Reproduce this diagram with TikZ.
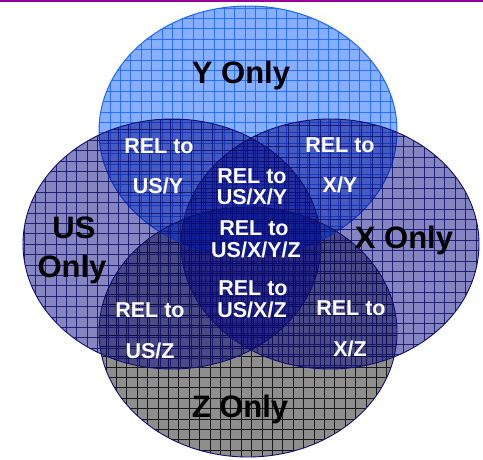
\documentclass[tikz,border=0pt]{standalone}
\usepackage{fontspec}
\setmainfont{Liberation Sans}
\definecolor{yfill}{HTML}{1060FF}
\definecolor{yline}{HTML}{1A66FF}
\definecolor{navyc}{HTML}{000080}
\definecolor{navyline}{HTML}{10106A}
\definecolor{zgray}{HTML}{8E8E8E}
\definecolor{topline}{HTML}{990099}
\newcommand\mygridlines[3]{%
  \foreach \k in {0,...,47} {\draw[#1] (\k*10.4+#2,0) -- (\k*10.4+#2,459);}
  \foreach \k in {0,...,45} {\draw[#1] (0,\k*10.4+#3) -- (483,\k*10.4+#3);}
}
\begin{document}
\begin{tikzpicture}[x=1pt,y=-1pt,
  bigtext/.style={font=\fontsize{31}{33}\selectfont\bfseries, text=black, anchor=base, inner sep=0pt},
  smalltext/.style={font=\fontsize{21.5}{22}\selectfont\bfseries, text=white, anchor=base, inner sep=0pt},
  ell/.style={x radius=149pt, y radius=125pt}]
\useasboundingbox (0,0) rectangle (483,459);
\fill[white] (0,0) rectangle (483,459);
\fill[topline] (0,0) rectangle (483,1.8);
\coordinate (cY) at (248,131);
\coordinate (cZ) at (248,332);
\coordinate (cUS) at (172,244);
\coordinate (cX) at (330,244);
% Z
\fill[zgray] (cZ) ellipse [ell];
\begin{scope}
  \clip (cZ) ellipse [ell];
  \mygridlines{black!90, line width=0.8pt}{2}{3}
\end{scope}
% Y
\fill[yfill, fill opacity=0.5] (cY) ellipse [ell];
\begin{scope}
  \clip (cY) ellipse [ell];
  \mygridlines{yline, line width=0.8pt, opacity=0.85}{6}{8}
\end{scope}
\draw[yline, line width=1pt] (cY) ellipse [ell];
% US
\fill[navyc, fill opacity=0.48] (cUS) ellipse [ell];
\begin{scope}
  \clip (cUS) ellipse [ell];
  \mygridlines{navyline, line width=0.8pt, opacity=0.85}{4}{5}
\end{scope}
% X
\fill[navyc, fill opacity=0.48] (cX) ellipse [ell];
\begin{scope}
  \clip (cX) ellipse [ell];
  \mygridlines{navyline, line width=0.8pt, opacity=0.85}{8}{1}
\end{scope}
\draw[navyline, line width=0.9pt] (cUS) ellipse [ell];
\draw[navyline, line width=0.9pt] (cX) ellipse [ell];
\draw[navyline, line width=0.9pt] (cZ) ellipse [ell];
% labels
\node[bigtext] (yonly) at (241,83) {Y Only};
\node[bigtext] (us1) at (74,238) {US};
\node[bigtext] (us2) at (72,277) {Only};
\node[bigtext] (xonly) at (404,248) {X Only};
\node[bigtext] (zonly) at (240,417) {Z Only};
\node[smalltext] (usy1) at (159,153) {REL to};
\node[smalltext] (usy2) at (158,193) {US/Y};
\node[smalltext] (xy1) at (340,152) {REL to};
\node[smalltext] (xy2) at (340,192) {X/Y};
\node[smalltext] (usxy1) at (252,183) {REL to};
\node[smalltext] (usxy2) at (252,204) {US/X/Y};
\node[smalltext] (all1) at (254,235) {REL to};
\node[smalltext] (all2) at (256,257) {US/X/Y/Z};
\node[smalltext] (usxz1) at (253,295) {REL to};
\node[smalltext] (usxz2) at (252,317) {US/X/Z};
\node[smalltext] (usz1) at (150,317) {REL to};
\node[smalltext] (usz2) at (150,358) {US/Z};
\node[smalltext] (xz1) at (351,315) {REL to};
\node[smalltext] (xz2) at (350,356) {X/Z};
\end{tikzpicture}
\end{document}
